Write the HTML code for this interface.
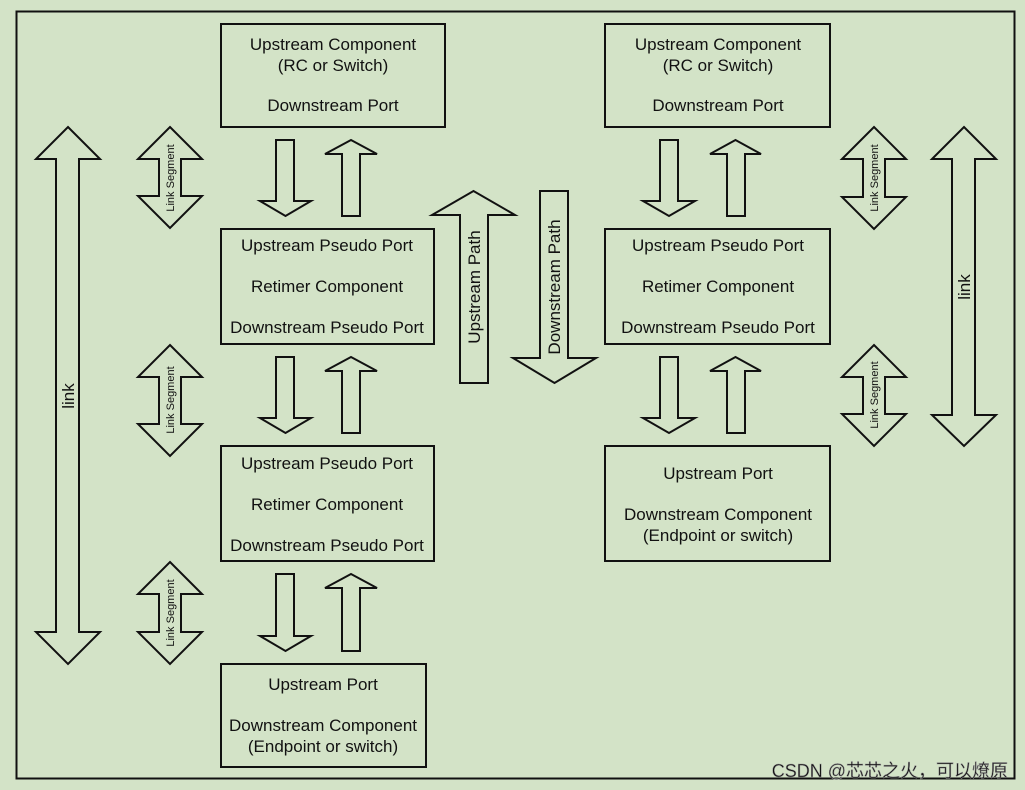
<!DOCTYPE html>
<html><head><meta charset="utf-8"><style>
html,body{margin:0;padding:0;background:#d3e3c7;}
svg{display:block}
text{font-family:"Liberation Sans",Arial,sans-serif;fill:#111}
</style></head><body>
<svg id="s" width="1025" height="790" viewBox="0 0 1025 790" xmlns="http://www.w3.org/2000/svg">
<rect x="0" y="0" width="1025" height="790" fill="#d3e3c7"/>
<rect x="16.5" y="11.5" width="998" height="767" fill="none" stroke="#111" stroke-width="2"/>
<g id="g" fill="none" stroke="#111" stroke-width="2"></g>
<g font-size="17" text-anchor="middle">
<rect x="221" y="24" width="224" height="103" fill="none" stroke="#111" stroke-width="2"/>
<text x="333" y="50">Upstream Component</text><text x="333" y="71">(RC or Switch)</text><text x="333" y="111">Downstream Port</text>
<rect x="221" y="229" width="213" height="115" fill="none" stroke="#111" stroke-width="2"/>
<text x="327" y="251">Upstream Pseudo Port</text><text x="327" y="292">Retimer Component</text><text x="327" y="333">Downstream Pseudo Port</text>
<rect x="221" y="446" width="213" height="115" fill="none" stroke="#111" stroke-width="2"/>
<text x="327" y="469">Upstream Pseudo Port</text><text x="327" y="510">Retimer Component</text><text x="327" y="551">Downstream Pseudo Port</text>
<rect x="221" y="664" width="205" height="103" fill="none" stroke="#111" stroke-width="2"/>
<text x="323" y="690">Upstream Port</text><text x="323" y="731">Downstream Component</text><text x="323" y="752">(Endpoint or switch)</text>
<rect x="605" y="24" width="225" height="103" fill="none" stroke="#111" stroke-width="2"/>
<text x="718" y="50">Upstream Component</text><text x="718" y="71">(RC or Switch)</text><text x="718" y="111">Downstream Port</text>
<rect x="605" y="229" width="225" height="115" fill="none" stroke="#111" stroke-width="2"/>
<text x="718" y="251">Upstream Pseudo Port</text><text x="718" y="292">Retimer Component</text><text x="718" y="333">Downstream Pseudo Port</text>
<rect x="605" y="446" width="225" height="115" fill="none" stroke="#111" stroke-width="2"/>
<text x="718" y="479">Upstream Port</text><text x="718" y="520">Downstream Component</text><text x="718" y="541">(Endpoint or switch)</text>
</g>
<g text-anchor="middle">
<text font-size="17" transform="translate(74,396) rotate(-90)">link</text>
<text font-size="17" transform="translate(970,287) rotate(-90)">link</text>
<text font-size="11" transform="translate(174,178) rotate(-90)">Link Segment</text>
<text font-size="11" transform="translate(174,400) rotate(-90)">Link Segment</text>
<text font-size="11" transform="translate(174,613) rotate(-90)">Link Segment</text>
<text font-size="11" transform="translate(878,178) rotate(-90)">Link Segment</text>
<text font-size="11" transform="translate(878,395) rotate(-90)">Link Segment</text>
<text font-size="17" transform="translate(480,287) rotate(-90)">Upstream Path</text>
<text font-size="17" transform="translate(560,287) rotate(-90)">Downstream Path</text>
</g>
<text x="1008" y="777" font-size="18" text-anchor="end" fill="#eeeeee" stroke="#999" stroke-width="0.5" style="font-family:'Liberation Sans','Noto Sans CJK SC',sans-serif">CSDN @芯芯之火，可以燎原</text>
</svg>
<script>
var g=document.getElementById('g');
function P(d){var p=document.createElementNS('http://www.w3.org/2000/svg','path');p.setAttribute('d',d);g.appendChild(p);}
function down(s1,s2,top,h1,h2,base,tip){var m=(h1+h2)/2;P(`M${s1},${top}L${s2},${top}L${s2},${base}L${h2},${base}L${m},${tip}L${h1},${base}L${s1},${base}Z`);}
function up(s1,s2,bot,h1,h2,base,tip){var m=(h1+h2)/2;P(`M${s1},${bot}L${s2},${bot}L${s2},${base}L${h2},${base}L${m},${tip}L${h1},${base}L${s1},${base}Z`);}
function dbl(h1,s1,s2,h2,tip1,b1,b2,tip2){var m=(h1+h2)/2;P(`M${m},${tip1}L${h2},${b1}L${s2},${b1}L${s2},${b2}L${h2},${b2}L${m},${tip2}L${h1},${b2}L${s1},${b2}L${s1},${b1}L${h1},${b1}Z`);}
[[140,216],[357,433],[574,651]].forEach(function(r){down(276,294,r[0],260,311,r[1]-15,r[1]);up(342,360,r[1],325,377,r[0]+14,r[0]);});
[[140,216],[357,433]].forEach(function(r){down(660,678,r[0],643,695,r[1]-15,r[1]);up(727,745,r[1],710,761,r[0]+14,r[0]);});
dbl(36,56,79,100,127,159,632,664);
dbl(932,952,975,996,127,159,415,446);
dbl(138,159,181,202,127,159,196,228);
dbl(138,159,181,202,345,377,424,456);
dbl(138,159,181,202,562,594,632,664);
dbl(842,863,885,906,127,159,197,229);
dbl(842,863,885,906,345,377,414,446);
up(460,488,383,432,515,215,191);
down(540,568,191,513,596,358,383);
</script>
</body></html>
